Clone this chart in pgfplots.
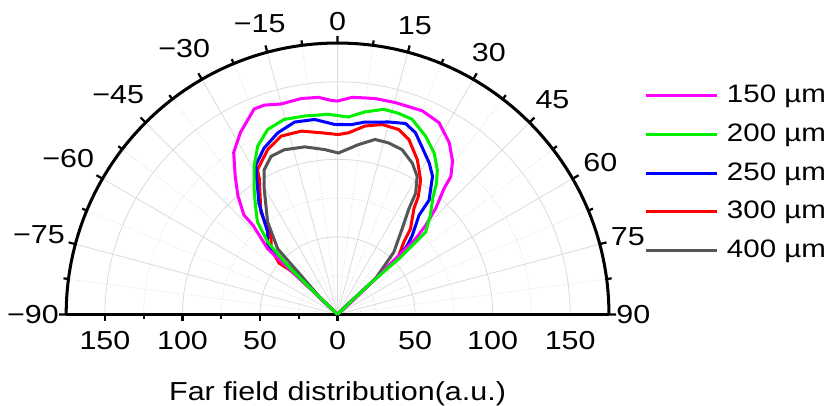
\documentclass[border=0pt]{standalone}
\usepackage{fontspec}
\setmainfont{Liberation Sans}[FakeStretch=1.17]
\usepackage{pgfplots}
\usepackage{pgfplotstable}
\pgfplotsset{compat=1.18}
\usepgfplotslibrary{polar}

\definecolor{cmag}{HTML}{FF00FF}
\definecolor{cgrn}{HTML}{00F000}
\definecolor{cblu}{HTML}{0000FF}
\definecolor{cred}{HTML}{FF0000}
\definecolor{cgry}{HTML}{555555}
\newcommand{\fs}{\fontsize{12.9}{15}\selectfont}
\newcommand{\fl}{\fontsize{12.5}{15}\selectfont}

% theta (deg, 0 = top, positive to the right), r
\pgfplotstableread{
a r
-47 0
-46.8 30
-46.8 61.8
-43.5 79
-43.3 88
-40 100
-36.5 111
-32.7 124
-28.1 133
-22.1 143
-19.3 143
-15 140.5
-9.5 141.2
-5 140.5
-1.6 138
0 137.6
3.7 140.2
5.5 140.5
9.9 141.3
15.3 141.6
22.6 142.2
27.9 139.9
33.1 132
36.9 123.5
39.4 115.1
40.2 106.5
42.8 93.1
44.7 80.8
45.9 70.1
46.2 54.8
46.8 33.3
48 12
50 0
}\tA

\pgfplotstableread{
a r
-48 0
-46.3 20.4
-45.6 44.9
-44 64.9
-40.9 78.9
-37 88
-33.5 97.5
-29.4 109.6
-25.4 120.1
-20.7 127.5
-15.3 130.4
-9.4 129.7
-2.7 129.2
3.1 127.5
7.7 131.8
12.7 135.6
16.9 135.5
20.9 134.7
26.3 128.2
30.9 121.3
34.6 113.3
37 106
39.3 97
43.1 87.6
46.9 77.8
47.2 68.6
47.8 53.3
46.8 33.3
46 13.4
47 0
}\tB

\pgfplotstableread{
a r
-48 0
-46.3 20
-45.6 45
-46.1 62.6
-40.3 69.7
-35.3 87.7
-30.7 102.1
-28.6 110
-23.8 117.3
-18.2 123.3
-12.6 127.1
-6.7 126.6
-0.8 122.5
4.3 122.8
8.1 125.3
14.9 128.4
19.6 130.7
23.2 127.5
27 120.5
31.2 114.1
34.5 108.1
38.7 94.4
39.4 82.8
43.4 70.1
45.3 63.2
46.5 54
46.8 33.3
46 13
47 0
}\tC

\pgfplotstableread{
a r
-48 0
-46.3 20
-46.9 41
-48.7 50.2
-45.4 60.3
-41.3 65
-36.8 82.6
-29.9 101.3
-29 106.6
-23 115.4
-17.6 120.6
-11.2 120.5
-5.1 117.6
0.2 116
3.4 117.3
8.3 122.8
13.2 125.8
18.3 125.6
22.2 121.8
27.3 112.2
31.7 101.9
34.4 92.2
35.8 84.2
40.4 72.6
42.5 63.3
46.5 54
46.8 33.3
46 13
47 0
}\tD

\pgfplotstableread{
a r
-48 0
-46.8 14.3
-43.2 34.2
-42.4 57.2
-37.1 74.8
-30.2 94.1
-26.9 104.6
-22.8 110.6
-17.9 111.6
-11.1 110.1
-4.4 106.6
0.3 104.1
7 110.3
12.1 115.4
16.6 115.4
21.4 114.1
26.3 108.8
30 102.7
32.8 92.9
34 82.4
37 69.2
42.1 54.1
46.8 33.3
46 13
47 0
}\tE

\begin{document}
\begin{tikzpicture}
\begin{polaraxis}[
  scale only axis, width=269pt, height=269pt,
  scale mode=scale uniformly,
  xmin=0, xmax=180, ymin=0, ymax=175,
  xtick={0,15,...,180},
  xticklabels={90,75,60,45,30,15,0,−15,−30,−45,−60,−75,−90},
  minor x tick num=1,
  ytick={0,50,100,150},
  minor ytick={25,75,125},
  yticklabels={},
  grid=both,
  major grid style={draw=black!14, line width=0.4pt},
  minor grid style={draw=black!14, densely dotted, line width=0.4pt},
  axis line style={line width=1.5pt},
  tick align=inside,
  major tick length=3.5pt, minor tick length=2.5pt,
  every tick/.style={black, line width=1.1pt},
  every tick label/.append style={font=\fs},
  xticklabel style={inner xsep=3.5pt, inner ysep=6pt},
  clip=false,
  legend style={at={(axis cs:0,0)}, anchor=north west, xshift=151.8pt, yshift=114.6pt,
    draw=none, fill=none, inner sep=0pt, column sep=4.2pt,
    font=\fl, row sep=6.97pt,
    nodes={inner sep=0pt, text height=9.5pt, text depth=2.7pt}},
  legend cell align=left,
  legend image code/.code={\draw[#1] (0pt,0pt) -- (35.3pt,0pt);},
]
\addplot[cgry, line width=1.5pt, forget plot] table[x expr=90-\thisrow{a}, y=r] {\tE};
\addplot[cred, line width=1.5pt, forget plot] table[x expr=90-\thisrow{a}, y=r] {\tD};
\addplot[cblu, line width=1.5pt, forget plot] table[x expr=90-\thisrow{a}, y=r] {\tC};
\addplot[cmag, line width=1.5pt, forget plot] table[x expr=90-\thisrow{a}, y=r] {\tA};
\addplot[cgrn, line width=1.5pt, forget plot] table[x expr=90-\thisrow{a}, y=r] {\tB};
\addlegendimage{cmag, line width=1.5pt}\addlegendentry{150 µm}
\addlegendimage{cgrn, line width=1.5pt}\addlegendentry{200 µm}
\addlegendimage{cblu, line width=1.5pt}\addlegendentry{250 µm}
\addlegendimage{cred, line width=1.5pt}\addlegendentry{300 µm}
\addlegendimage{cgry, line width=1.5pt}\addlegendentry{400 µm}
\node[anchor=north, inner sep=0pt, yshift=-8pt, font=\fs] at (axis cs:0,50) {50};
\node[anchor=north, inner sep=0pt, yshift=-8pt, font=\fs] at (axis cs:0,100) {100};
\node[anchor=north, inner sep=0pt, yshift=-8pt, font=\fs] at (axis cs:0,150) {150};
\node[anchor=north, inner sep=0pt, yshift=-8pt, font=\fs] at (axis cs:180,50) {50};
\node[anchor=north, inner sep=0pt, yshift=-8pt, font=\fs] at (axis cs:180,100) {100};
\node[anchor=north, inner sep=0pt, yshift=-8pt, font=\fs] at (axis cs:180,150) {150};
\node[anchor=north, inner sep=0pt, yshift=-8pt, font=\fs] at (axis cs:0,0) {0};
\node[anchor=base, inner sep=0pt, yshift=-42.5pt, font=\fs] at (axis cs:0,0) {Far field distribution(a.u.)};
\end{polaraxis}
\end{tikzpicture}
\end{document}
